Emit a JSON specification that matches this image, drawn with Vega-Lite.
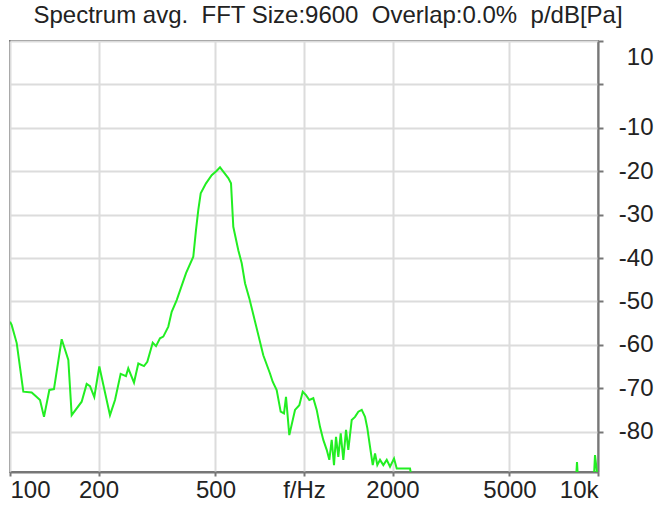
{
  "$schema": "https://vega.github.io/schema/vega-lite/v6.json",
  "width": 588,
  "height": 431,
  "autosize": "none",
  "padding": {"left": 10, "top": 41, "right": 58, "bottom": 35},
  "background": "white",
  "title": {
    "text": "Spectrum avg.\u00a0 FFT Size:9600\u00a0 Overlap:0.0%\u00a0 p/dB[Pa]",
    "font": "Liberation Sans",
    "fontSize": 24,
    "fontWeight": "normal",
    "color": "#222",
    "anchor": "middle",
    "dx": 24,
    "offset": 12
  },
  "data": {
    "values": [
      {"f": 100, "p": -54.7}, {"f": 101.3, "p": -55.4}, {"f": 105.4, "p": -59.6}, {"f": 111.0, "p": -70.8},
      {"f": 118.5, "p": -71.0}, {"f": 123.3, "p": -72.0}, {"f": 126.5, "p": -72.7}, {"f": 130.5, "p": -76.6},
      {"f": 136.1, "p": -70.4}, {"f": 141.1, "p": -70.2}, {"f": 149.9, "p": -58.7}, {"f": 157.9, "p": -63.5},
      {"f": 162.1, "p": -76.2}, {"f": 175.3, "p": -73.1}, {"f": 182.3, "p": -69.0}, {"f": 187.1, "p": -69.5},
      {"f": 193.5, "p": -72.0}, {"f": 201.3, "p": -65.0}, {"f": 218.8, "p": -76.2}, {"f": 227.6, "p": -72.7},
      {"f": 237.9, "p": -66.7}, {"f": 248.0, "p": -67.2}, {"f": 252.5, "p": -65.4}, {"f": 264.1, "p": -68.7},
      {"f": 273.2, "p": -64.3}, {"f": 285.6, "p": -64.9}, {"f": 293.1, "p": -63.9}, {"f": 305.8, "p": -59.5},
      {"f": 313.8, "p": -60.3}, {"f": 323.7, "p": -58.5}, {"f": 332.2, "p": -58.1}, {"f": 345.5, "p": -55.8},
      {"f": 354.8, "p": -52.4}, {"f": 369.0, "p": -49.7}, {"f": 397.0, "p": -43.5}, {"f": 420.2, "p": -39.7},
      {"f": 429.2, "p": -33.5}, {"f": 437.0, "p": -28.9}, {"f": 445.3, "p": -25.1}, {"f": 464.2, "p": -22.8},
      {"f": 485.3, "p": -20.9}, {"f": 504.8, "p": -19.9}, {"f": 518.0, "p": -19.1}, {"f": 531.5, "p": -20.1},
      {"f": 552.7, "p": -21.6}, {"f": 564.6, "p": -22.8}, {"f": 574.8, "p": -32.8}, {"f": 597.8, "p": -38.2},
      {"f": 614.0, "p": -41.2}, {"f": 630.1, "p": -45.8}, {"f": 651.7, "p": -49.3}, {"f": 727.0, "p": -62.4},
      {"f": 766.2, "p": -66.6}, {"f": 782.5, "p": -68.5}, {"f": 807.4, "p": -70.4}, {"f": 833.1, "p": -75.4},
      {"f": 855.0, "p": -75.8}, {"f": 868.5, "p": -72.0}, {"f": 891.3, "p": -80.8}, {"f": 932.0, "p": -75.0},
      {"f": 963.9, "p": -73.9}, {"f": 989.9, "p": -70.8}, {"f": 1015.8, "p": -71.6}, {"f": 1042.4, "p": -72.7},
      {"f": 1075.6, "p": -72.3}, {"f": 1104.7, "p": -75.0}, {"f": 1133.6, "p": -78.9}, {"f": 1163.2, "p": -81.9},
      {"f": 1194.7, "p": -84.2}, {"f": 1219.4, "p": -86.5}, {"f": 1242.4, "p": -81.9}, {"f": 1264.9, "p": -87.7},
      {"f": 1284.8, "p": -81.2}, {"f": 1308.4, "p": -85.8}, {"f": 1333.1, "p": -80.4}, {"f": 1360.6, "p": -86.5},
      {"f": 1389.7, "p": -79.6}, {"f": 1414.9, "p": -84.2}, {"f": 1453.0, "p": -77.3}, {"f": 1491.3, "p": -76.6},
      {"f": 1530.3, "p": -75.4}, {"f": 1571.7, "p": -75.0}, {"f": 1612.8, "p": -76.6}, {"f": 1642.1, "p": -79.2},
      {"f": 1677.3, "p": -83.5}, {"f": 1713.2, "p": -87.7}, {"f": 1744.3, "p": -85.0}, {"f": 1775.9, "p": -87.7},
      {"f": 1813.9, "p": -86.5}, {"f": 1861.3, "p": -87.7}, {"f": 1911.6, "p": -86.5}, {"f": 1961.6, "p": -88.1},
      {"f": 2024.0, "p": -86.2}, {"f": 2067.4, "p": -88.5}, {"f": 2149.9, "p": -88.5}, {"f": 2294.2, "p": -88.5},
      {"f": 2386, "p": -95}, {"f": 8354, "p": -95}, {"f": 8483, "p": -87.0}, {"f": 8617, "p": -95},
      {"f": 9616, "p": -95}, {"f": 9768, "p": -85.4}, {"f": 9922, "p": -89.5}
    ]
  },
  "mark": {"type": "line", "color": "#22ee22", "strokeWidth": 2, "clip": true},
  "encoding": {
    "x": {
      "field": "f",
      "type": "quantitative",
      "scale": {"type": "log", "domain": [100, 10000], "nice": false},
      "axis": {
        "title": null,
        "values": [100, 200, 500, 1000, 2000, 5000, 10000],
        "labelExpr": "datum.value == 1000 ? 'f/Hz' : datum.value == 10000 ? '10k' : toString(datum.value)",
        "labelFlush": true,
        "labelPadding": 2,
        "tickSize": 4
      }
    },
    "y": {
      "field": "p",
      "type": "quantitative",
      "scale": {"domain": [-89.3, 10], "nice": false, "zero": false},
      "axis": {
        "orient": "right",
        "title": null,
        "values": [-80, -70, -60, -50, -40, -30, -20, -10, 0, 10],
        "labelExpr": "datum.value == 0 ? '' : toString(datum.value)",
        "labelAlign": "right",
        "labelPadding": 50,
        "tickSize": 5,
        "labelOffset": {"condition": {"test": "datum.value == 10", "value": 16}, "value": 0}
      }
    }
  },
  "config": {
    "view": {"stroke": "#777", "strokeWidth": 2},
    "axis": {
      "grid": true,
      "gridColor": "#dcdcdc",
      "gridWidth": 2,
      "domainColor": "#777",
      "domainWidth": 2,
      "tickColor": "#777",
      "tickWidth": 2,
      "labelFont": "Liberation Sans",
      "labelFontSize": 24,
      "labelColor": "#222"
    }
  }
}
